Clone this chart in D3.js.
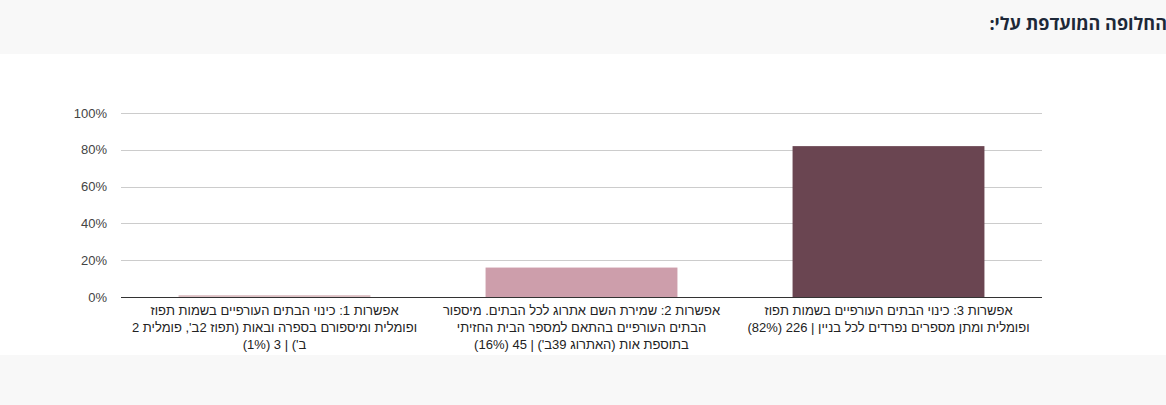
<!DOCTYPE html>
<html lang="he">
<head>
<meta charset="utf-8">
<script src="https://cdn.jsdelivr.net/npm/d3@7"></script>
<style>
  html, body { margin: 0; padding: 0; background: #f8f8f8; }
  svg { display: block; }
</style>
</head>
<body>
<div id="chart"></div>
<script>
const title = "החלופה המועדפת עלי:";

// categories, left to right, each label already split into its lines
const categories = ["option1", "option2", "option3"];
const labelLines = [
  ["אפשרות 1: כינוי הבתים העורפיים בשמות תפוז",
   "ופומלית ומיספורם בספרה ובאות (תפוז 2ב', פומלית 2",
   "ב') | 3 (1%)"],
  ["אפשרות 2: שמירת השם אתרוג לכל הבתים. מיספור",
   "הבתים העורפיים בהתאם למספר הבית החזיתי",
   "בתוספת אות (האתרוג 39ב') | 45 (16%)"],
  ["אפשרות 3: כינוי הבתים העורפיים בשמות תפוז",
   "ופומלית ומתן מספרים נפרדים לכל בניין | 226 (82%)"]
];
const shares = [0.01, 0.16, 0.82];
const barColors = ["#dcbfc3", "#cd9eab", "#6a4551"];
const yTicks = [0, 0.2, 0.4, 0.6, 0.8, 1];

const width = 1166;
const height = 405;
const margin = { left: 121, right: 124, top: 113, bottom: 108 };

const svg = d3.select("#chart")
  .append("svg")
  .attr("width", width)
  .attr("height", height);

// background bands
svg.append("rect")
  .attr("x", 0).attr("y", 0)
  .attr("width", width).attr("height", height)
  .attr("fill", "#f8f8f8");

svg.append("rect")
  .attr("x", 0).attr("y", 54)
  .attr("width", width).attr("height", 301)
  .attr("fill", "#ffffff");

// title
svg.append("text")
  .attr("x", 1167)
  .attr("y", 30)
  .attr("text-anchor", "start")
  .style("direction", "rtl")
  .style("font-family", "'Open Sans', 'Noto Sans', sans-serif")
  .style("font-weight", "bold")
  .style("font-size", "18px")
  .style("fill", "#1d2838")
  .text(title);

const x = d3.scaleBand()
  .domain(categories)
  .range([margin.left, width - margin.right])
  .paddingInner(0.375)
  .paddingOuter(0.1875);

const y = d3.scaleLinear()
  .domain([0, 1])
  .range([height - margin.bottom, margin.top]);

// gridlines
svg.append("g")
  .selectAll("line")
  .data(yTicks.filter(d => d > 0))
  .enter()
  .append("line")
  .attr("x1", margin.left)
  .attr("x2", width - margin.right)
  .attr("y1", d => Math.round(y(d)) + 0.5)
  .attr("y2", d => Math.round(y(d)) + 0.5)
  .attr("stroke", "#cccccc");

// y axis labels
const yAxis = svg.append("g")
  .attr("transform", `translate(${margin.left},0)`)
  .call(d3.axisLeft(y)
    .tickValues(yTicks)
    .tickFormat(d3.format(".0%"))
    .tickSize(0)
    .tickPadding(14));

yAxis.select(".domain").remove();
yAxis.selectAll("text")
  .style("font-family", "Arial, 'Liberation Sans', sans-serif")
  .style("font-size", "13px")
  .style("fill", "#444444");

// bars
svg.append("g")
  .selectAll("rect")
  .data(shares)
  .enter()
  .append("rect")
  .attr("x", (d, i) => x(categories[i]))
  .attr("y", d => y(d))
  .attr("width", x.bandwidth())
  .attr("height", d => y(0) - y(d))
  .attr("fill", (d, i) => barColors[i]);

// baseline
svg.append("line")
  .attr("x1", margin.left)
  .attr("x2", width - margin.right)
  .attr("y1", y(0) + 0.5)
  .attr("y2", y(0) + 0.5)
  .attr("stroke", "#333333");

// category labels
const labels = svg.append("g")
  .selectAll("text")
  .data(labelLines)
  .enter()
  .append("text")
  .attr("text-anchor", "middle")
  .style("direction", "rtl")
  .style("font-family", "Arial, 'Liberation Sans', sans-serif")
  .style("font-size", "13px")
  .style("fill", "#222222");

labels.each(function(lines, i) {
  const cx = x(categories[i]) + x.bandwidth() / 2;
  d3.select(this).selectAll("tspan")
    .data(lines)
    .enter()
    .append("tspan")
    .attr("x", cx)
    .attr("y", (d, j) => y(0) + 18 + j * 17)
    .text(d => d);
});
</script>
</body>
</html>
